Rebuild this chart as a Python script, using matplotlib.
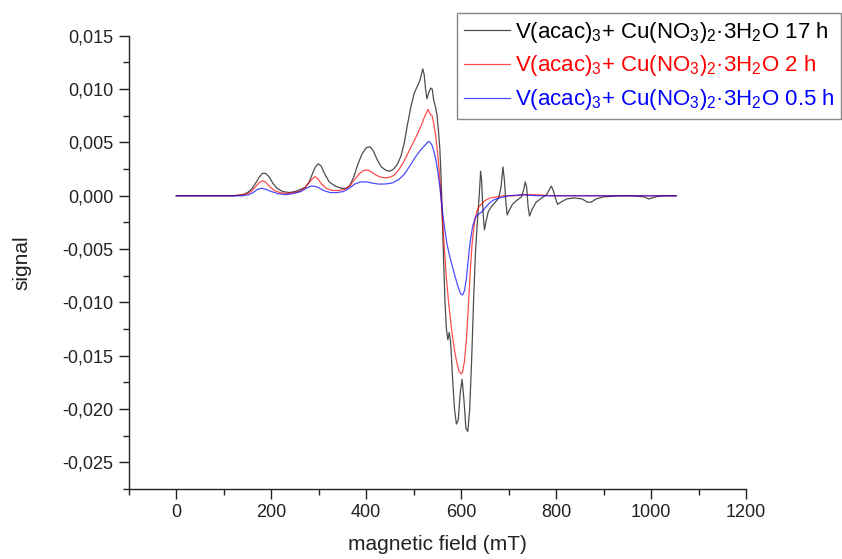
import matplotlib
matplotlib.use("Agg")
import matplotlib.pyplot as plt
from matplotlib.ticker import MultipleLocator, FuncFormatter

plt.rcParams["font.family"] = ["Liberation Sans", "DejaVu Sans"]
plt.rcParams["mathtext.fontset"] = "custom"
plt.rcParams["mathtext.rm"] = "Liberation Sans"
plt.rcParams["mathtext.it"] = "Liberation Sans:italic"
plt.rcParams["axes.unicode_minus"] = False

# EPR spectra: magnetic field (mT) vs signal
field_17h = [0, 60, 120, 140, 150, 158, 166, 174, 181, 188, 195, 203, 212, 224, 238, 250,
             262, 272, 280, 287, 293, 299, 305, 312, 322, 335, 348, 358, 366, 374, 382, 391,
             400, 408, 415, 423, 432, 441, 449, 458, 466, 473, 480, 487, 494, 501, 507, 512,
             516, 519, 522, 525, 528, 532, 536, 539, 542, 546, 549, 552, 555, 557, 559, 561,
             563, 566, 569, 572, 575, 578, 582, 586, 590, 594, 598, 602, 606, 610, 614, 618,
             622, 626, 630, 634, 638, 641, 643, 646, 649, 652, 657, 664, 672, 679, 684, 688,
             691, 694, 697, 701, 708, 718, 727, 732, 735, 738, 741, 744, 749, 758, 770, 780,
             786, 790, 794, 799, 803, 810, 822, 838, 855, 866, 874, 884, 900, 930, 960, 985,
             995, 1002, 1010, 1025, 1040, 1053]
signal_17h = [0.0, 0.0, 0.0, 0.0001, 0.0003, 0.0006, 0.0011, 0.0017, 0.0021, 0.0021, 0.0018,
              0.0012, 0.0007, 0.0004, 0.0003, 0.0004, 0.0006, 0.0008, 0.0013, 0.0021, 0.0027,
              0.0030, 0.0028, 0.0021, 0.0013, 0.0009, 0.0007, 0.0007, 0.0010, 0.0018, 0.0029,
              0.0039, 0.0045, 0.0046, 0.0042, 0.0034, 0.0027, 0.0024, 0.0023, 0.0025, 0.0030,
              0.0037, 0.0049, 0.0067, 0.0083, 0.0096, 0.0102, 0.0107, 0.0113, 0.0119, 0.0114,
              0.0100, 0.0091, 0.0097, 0.0101, 0.0100, 0.0090, 0.0083, 0.0076, 0.0062, 0.0045,
              0.0025, 0.0000, -0.0030, -0.0060, -0.0100, -0.0125, -0.0135, -0.0128, -0.0138,
              -0.0172, -0.0200, -0.0214, -0.0210, -0.0185, -0.0172, -0.0192, -0.0218, -0.0221,
              -0.0200, -0.0155, -0.0100, -0.0055, -0.0025, 0.0000, 0.0023, 0.0015, -0.0015,
              -0.0032, -0.0025, -0.0015, -0.0010, -0.0006, -0.0002, 0.0008, 0.0027, 0.0015,
              -0.0005, -0.0018, -0.0014, -0.0008, -0.0004, -0.0001, 0.0006, 0.0013, 0.0008,
              -0.0010, -0.0019, -0.0013, -0.0006, -0.0002, 0.0001, 0.0006, 0.0009, 0.0005,
              -0.0003, -0.0008, -0.0006, -0.0003, -0.0002, -0.0003, -0.0006, -0.0006, -0.0003,
              -0.0001, 0.0, 0.0, -0.0001, -0.0003, -0.0002, -0.0001, 0.0, 0.0, 0.0]

field_2h = [0, 60, 120, 140, 150, 158, 166, 174, 181, 188, 196, 206, 218, 232, 246, 260, 272,
            281, 287, 292, 298, 306, 316, 328, 342, 355, 365, 375, 386, 396, 404, 412, 422,
            434, 446, 458, 468, 478, 488, 498, 508, 516, 522, 527, 530, 533, 536, 539, 542,
            546, 549, 552, 555, 558, 561, 565, 569, 574, 579, 585, 591, 596, 600, 603, 607,
            611, 615, 619, 623, 628, 633, 638, 644, 652, 662, 675, 690, 710, 735, 760, 790,
            830, 900, 980, 1053]
signal_2h = [0.0, 0.0, 0.0, 0.0001, 0.0002, 0.0004, 0.0008, 0.0012, 0.0014, 0.0013, 0.0009,
             0.0005, 0.0003, 0.0002, 0.0003, 0.0004, 0.0008, 0.0013, 0.0016, 0.0018, 0.0016,
             0.0011, 0.0007, 0.0005, 0.0005, 0.0006, 0.0009, 0.0015, 0.0021, 0.0024, 0.0024,
             0.0022, 0.0019, 0.0017, 0.0017, 0.0019, 0.0024, 0.0031, 0.0040, 0.0049, 0.0058,
             0.0066, 0.0073, 0.0078, 0.0081, 0.0078, 0.0076, 0.0075, 0.0068, 0.0058, 0.0046,
             0.0032, 0.0016, -0.0003, -0.0025, -0.0052, -0.0078, -0.0102, -0.0122, -0.0142,
             -0.0157, -0.0165, -0.0167, -0.0165, -0.0155, -0.0135, -0.0105, -0.0072, -0.0045,
             -0.0025, -0.0015, -0.0010, -0.0007, -0.0004, -0.0002, -0.0001, 0.0, 0.0, 0.0001,
             0.0001, 0.0, 0.0, 0.0, 0.0, 0.0]

field_05h = [0, 60, 120, 140, 152, 162, 171, 180, 189, 200, 214, 230, 246, 262, 274, 283, 290,
             298, 310, 324, 338, 352, 364, 376, 388, 400, 412, 425, 440, 455, 468, 480, 492,
             503, 513, 521, 527, 531, 535, 539, 543, 547, 551, 555, 558, 561, 565, 570, 576,
             582, 588, 594, 599, 603, 607, 611, 615, 619, 624, 630, 637, 644, 651, 659, 668,
             680, 700, 730, 760, 800, 850, 900, 980, 1053]
signal_05h = [0.0, 0.0, 0.0, 0.0, 0.0001, 0.0003, 0.0006, 0.0007, 0.0006, 0.0004, 0.0002,
              0.0001, 0.0002, 0.0004, 0.0007, 0.0009, 0.0009, 0.0008, 0.0005, 0.0003, 0.0003,
              0.0004, 0.0007, 0.0011, 0.0013, 0.0013, 0.0012, 0.0011, 0.0011, 0.0012, 0.0015,
              0.0020, 0.0028, 0.0036, 0.0042, 0.0046, 0.0049, 0.0051, 0.0050, 0.0047, 0.0041,
              0.0033, 0.0022, 0.0009, -0.0004, -0.0016, -0.0030, -0.0045, -0.0057, -0.0067,
              -0.0077, -0.0086, -0.0092, -0.0093, -0.0089, -0.0078, -0.0060, -0.0043, -0.0029,
              -0.0020, -0.0017, -0.0015, -0.0011, -0.0007, -0.0004, -0.0002, 0.0, 0.0001, 0.0,
              0.0, 0.0, 0.0, 0.0, 0.0]

labels = [r"V(acac)$_3$+ Cu(NO$_3$)$_2$·3H$_2$O 17 h",
          r"V(acac)$_3$+ Cu(NO$_3$)$_2$·3H$_2$O 2 h",
          r"V(acac)$_3$+ Cu(NO$_3$)$_2$·3H$_2$O 0.5 h"]
colors = ["#000000", "#ff0000", "#0000ff"]

fig = plt.figure(figsize=(8.42, 5.59), dpi=100)
ax = fig.add_axes([0.153, 0.125, 0.733, 0.811])

series = [(field_17h, signal_17h), (field_2h, signal_2h), (field_05h, signal_05h)]
for (x, y), lab, c in zip(series, labels, colors):
    ax.plot(x, y, color=c, lw=0.9, alpha=0.7, label=lab)

ax.set_xlim(-100, 1200)
ax.set_ylim(-0.0275, 0.015)
ax.xaxis.set_major_locator(MultipleLocator(200))
ax.xaxis.set_minor_locator(MultipleLocator(100))
ax.yaxis.set_major_locator(MultipleLocator(0.005))
ax.yaxis.set_minor_locator(MultipleLocator(0.0025))
ax.yaxis.set_major_formatter(FuncFormatter(lambda v, p: f"{v:.3f}".replace(".", ",").replace("-0,000", "0,000")))
ax.xaxis.set_major_formatter(FuncFormatter(lambda v, p: f"{v:.0f}"))

for s in ("top", "right"):
    ax.spines[s].set_visible(False)
for s in ("left", "bottom"):
    ax.spines[s].set_linewidth(1.0)
    ax.spines[s].set_color("#222222")

ax.tick_params(which="major", direction="out", length=7, width=1.0, color="#222222",
               labelsize=13, labelcolor="#222222", pad=4)
ax.tick_params(which="minor", direction="out", length=4, width=1.0, color="#222222")

ax.set_xlabel("magnetic field (mT)", fontsize=15, color="#222222", labelpad=10)
ax.set_ylabel("signal", fontsize=15, color="#222222", labelpad=22)

leg = fig.legend(loc="upper right", bbox_to_anchor=(0.999, 0.977), fontsize=16,
                 frameon=True, fancybox=False, edgecolor="#888888", framealpha=1,
                 handlelength=2.1, handletextpad=0.2, labelspacing=0.4, borderpad=0.3,
                 borderaxespad=0.0, labelcolor="linecolor")
leg.get_frame().set_linewidth(1.0)
for line in leg.get_lines():
    line.set_alpha(0.7)
for t, c in zip(leg.get_texts(), colors):
    t.set_color(c)

fig.savefig("out.png", dpi=100)
